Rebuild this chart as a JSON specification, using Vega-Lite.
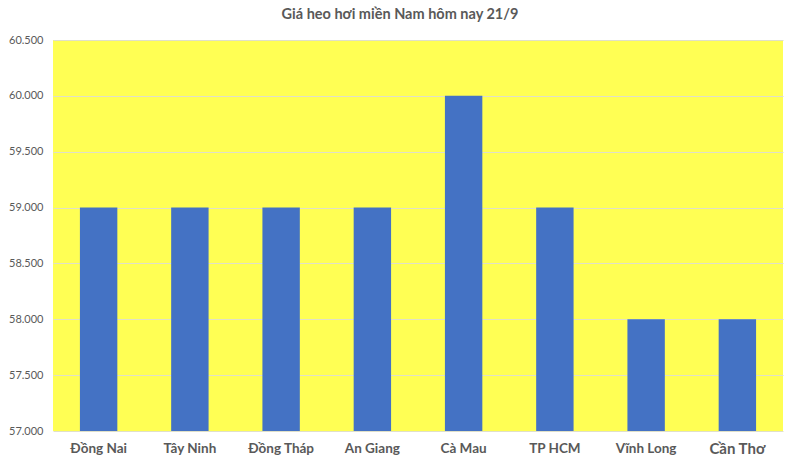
{
  "$schema": "https://vega.github.io/schema/vega-lite/v6.json",
  "autosize": "none",
  "width": 730,
  "height": 391,
  "padding": {"left": 53, "top": 40, "right": 17, "bottom": 33},
  "background": "white",
  "title": {
    "text": "Giá heo hơi miền Nam hôm nay 21/9",
    "font": "Lato",
    "fontSize": 14.5,
    "fontWeight": "bold",
    "color": "#595959",
    "dx": -18,
    "offset": 12
  },
  "config": {
    "view": {"fill": "#FFFF54", "stroke": null},
    "font": "Lato"
  },
  "data": {
    "values": [
      {"tinh": "Đồng Nai", "gia": 59000},
      {"tinh": "Tây Ninh", "gia": 59000},
      {"tinh": "Đồng Tháp", "gia": 59000},
      {"tinh": "An Giang", "gia": 59000},
      {"tinh": "Cà Mau", "gia": 60000},
      {"tinh": "TP HCM", "gia": 59000},
      {"tinh": "Vĩnh Long", "gia": 58000},
      {"tinh": "Cần Thơ", "gia": 58000}
    ]
  },
  "mark": {"type": "bar", "color": "#4472C4", "clip": true},
  "encoding": {
    "x": {
      "field": "tinh",
      "type": "nominal",
      "sort": null,
      "title": null,
      "scale": {"paddingInner": 0.59, "paddingOuter": 0.295},
      "axis": {
        "labelAngle": 0,
        "domain": false,
        "ticks": false,
        "labelPadding": 10,
        "labelColor": "#595959",
        "labelFontWeight": "bold",
        "labelFontSize": {"condition": {"test": "datum.value == 'Cần Thơ'", "value": 15}, "value": 13.5}
      }
    },
    "y": {
      "field": "gia",
      "type": "quantitative",
      "title": null,
      "scale": {"domain": [57000, 60500], "zero": false, "nice": false},
      "axis": {
        "values": [57000, 57500, 58000, 58500, 59000, 59500, 60000, 60500],
        "labelExpr": "replace(format(datum.value, ',.0f'), ',', '.')",
        "domain": false,
        "ticks": false,
        "labelPadding": 10,
        "labelColor": "#595959",
        "labelFontSize": 11,
        "gridColor": "#E0E0C8",
        "gridWidth": 1
      }
    }
  }
}
